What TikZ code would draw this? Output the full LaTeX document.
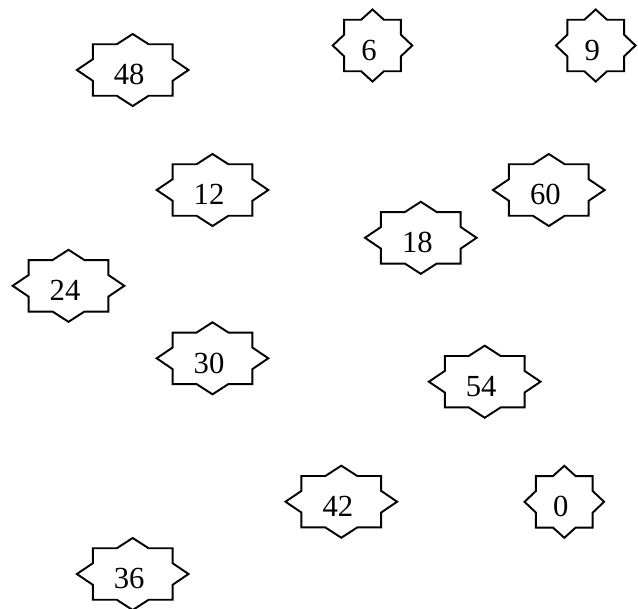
\documentclass[tikz,border=0pt]{standalone}
\usepackage{fontspec}
\setmainfont{Liberation Serif}
\usepackage{tikz}
\usetikzlibrary{calc}

\begin{document}
\begin{tikzpicture}[
                x=0.75pt, y=-0.75pt,
                burst/.style={rectangle, inner sep=0pt, outer sep=0pt, minimum height=38.6pt,
                    font=\fontsize{23pt}{27pt}\selectfont, text height=22.4pt, text depth=0pt,
                    execute at end node={\hspace*{5.2pt}}},
                wideburst/.style={burst, minimum width=59.8pt},
                slimburst/.style={burst, minimum width=42.6pt},
                outline/.style={line width=1.45pt, line join=miter}
            ]
            \useasboundingbox (0, 0) rectangle (638, 608);
            \node[wideburst] (n48) at (132.7, 70) {48};
            \node[slimburst] (n6) at (372.5, 45.5) {6};
            \node[slimburst] (n9) at (595.7, 45.5) {9};
            \node[wideburst] (n12) at (212.5, 190) {12};
            \node[wideburst] (n60) at (548.8, 190) {60};
            \node[wideburst] (n18) at (420.8, 237.8) {18};
            \node[wideburst] (n24) at (68.5, 285.8) {24};
            \node[wideburst] (n30) at (212.5, 358.3) {30};
            \node[wideburst] (n54) at (484.7, 381.7) {54};
            \node[wideburst] (n42) at (341.3, 501.7) {42};
            \node[slimburst] (n0) at (564.3, 501.8) {0};
            \node[wideburst] (n36) at (132.7, 574) {36};
            % eight-point outline round every node
            \foreach \n in {n48, n6, n9, n12, n60, n18, n24, n30, n54, n42, n0, n36}
                \draw[outline] (\n.north west)
                    -- ($(\n.north west)!0.3!(\n.north east)$) -- ($(\n.north)!-0.2!(\n.south)$)
                    -- ($(\n.north west)!0.7!(\n.north east)$) -- (\n.north east)
                    -- ($(\n.north east)!0.29!(\n.south east)$) -- ($(\n.east)!-0.2!(\n.west)$)
                    -- ($(\n.north east)!0.71!(\n.south east)$) -- (\n.south east)
                    -- ($(\n.south east)!0.3!(\n.south west)$) -- ($(\n.south)!-0.2!(\n.north)$)
                    -- ($(\n.south east)!0.7!(\n.south west)$) -- (\n.south west)
                    -- ($(\n.south west)!0.29!(\n.north west)$) -- ($(\n.west)!-0.2!(\n.east)$)
                    -- ($(\n.south west)!0.71!(\n.north west)$) -- cycle;
        \end{tikzpicture}
\end{document}
